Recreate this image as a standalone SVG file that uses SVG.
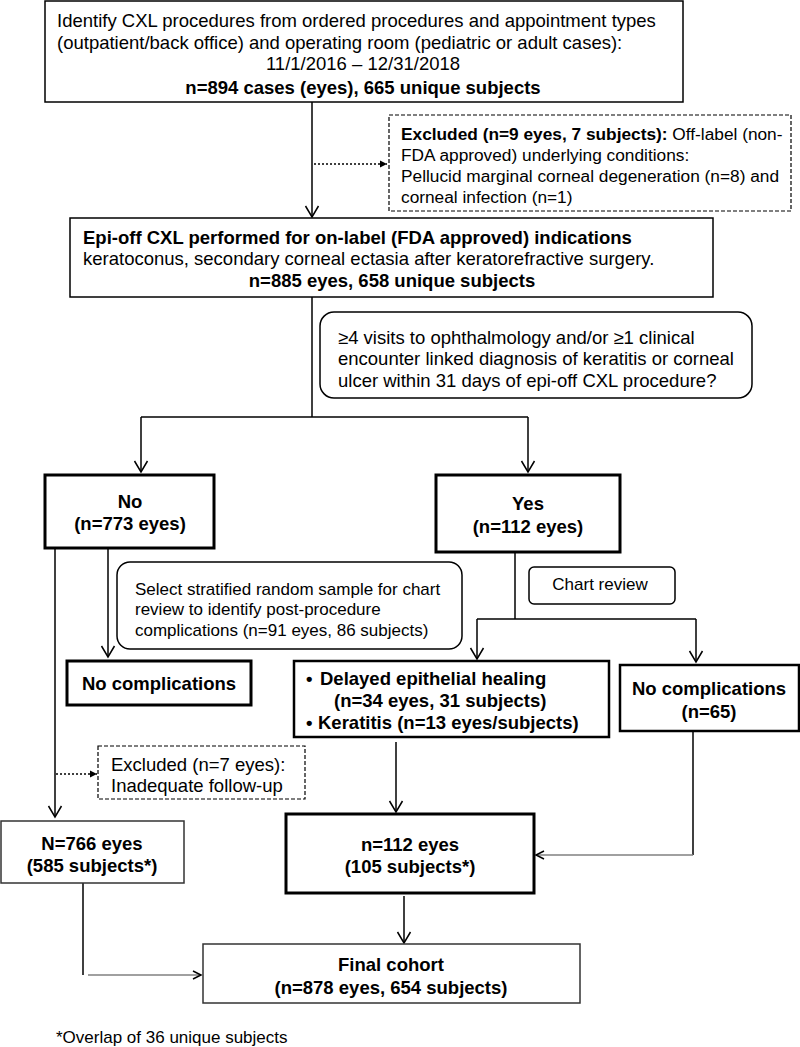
<svg xmlns="http://www.w3.org/2000/svg" width="800" height="1047" viewBox="0 0 800 1047">
<style>
text{font-family:"Liberation Sans",Arial,sans-serif;font-size:18.5px;fill:#000}
.b{font-weight:bold}
.s{font-size:17px}
.e{font-size:17.3px}
.c{text-anchor:middle}
.box{fill:#fff;stroke:#000;stroke-width:1.5}
.thick{fill:#fff;stroke:#000;stroke-width:3}
.mid{fill:#fff;stroke:#000;stroke-width:2.5}
.dash{fill:#fff;stroke:#000;stroke-width:1.2;stroke-dasharray:4 2}
.ln{fill:none;stroke:#000;stroke-width:1.5}
.gray{fill:none;stroke:#808080;stroke-width:1.5}
.dot{fill:none;stroke:#000;stroke-width:1.5;stroke-dasharray:2 2}
</style>
<defs>
<marker id="arr" markerUnits="userSpaceOnUse" markerWidth="14" markerHeight="16" viewBox="0 0 14 16" refX="12" refY="8" orient="auto">
<path d="M1,1.5 L12,8 L1,14.5" fill="none" stroke="#000" stroke-width="1.5"/>
</marker>
<marker id="arrs" markerUnits="userSpaceOnUse" markerWidth="12" markerHeight="12" viewBox="0 0 12 12" refX="10" refY="6" orient="auto">
<path d="M2,2 L10,6 L2,10" fill="none" stroke="#000" stroke-width="1.5"/>
</marker>
<marker id="tri" markerUnits="userSpaceOnUse" markerWidth="10" markerHeight="10" viewBox="0 0 10 10" refX="8" refY="5" orient="auto">
<path d="M1,1.5 L8,5 L1,8.5 Z" fill="#000"/>
</marker>
</defs>

<g id="connectors">
<line class="ln" x1="312" y1="102" x2="312" y2="217" marker-end="url(#arr)"/>
<line class="dot" x1="314" y1="164" x2="387" y2="164" marker-end="url(#tri)"/>
<line class="ln" x1="312" y1="297" x2="312" y2="417"/>
<line class="ln" x1="141" y1="417" x2="528" y2="417"/>
<line class="ln" x1="141" y1="417" x2="141" y2="472" marker-end="url(#arr)"/>
<line class="ln" x1="528" y1="417" x2="528" y2="472" marker-end="url(#arr)"/>
<line class="ln" x1="108" y1="548" x2="108" y2="657" marker-end="url(#arr)"/>
<line class="ln" x1="55" y1="548" x2="55" y2="817" marker-end="url(#arr)"/>
<line class="dot" x1="56" y1="774" x2="97" y2="774" marker-end="url(#tri)"/>
<line class="ln" x1="515" y1="552" x2="515" y2="619"/>
<line class="ln" x1="477" y1="619" x2="696" y2="619"/>
<line class="ln" x1="477" y1="619" x2="477" y2="659" marker-end="url(#arr)"/>
<line class="ln" x1="696" y1="619" x2="696" y2="662" marker-end="url(#arr)"/>
<line class="ln" x1="396" y1="742" x2="396" y2="812" marker-end="url(#arr)"/>
<line class="ln" x1="693" y1="731" x2="693" y2="855"/>
<line class="gray" x1="693" y1="855" x2="536" y2="855" marker-end="url(#arrs)"/>
<line class="ln" x1="83" y1="883" x2="83" y2="975"/>
<line class="gray" x1="88" y1="975" x2="201" y2="975" marker-end="url(#arrs)"/>
<line class="ln" x1="404" y1="896" x2="404" y2="943" marker-end="url(#arr)"/>
</g>

<g id="n-identify">
<rect class="box" x="45" y="1" width="638" height="101"/>
<text x="57" y="26.5">Identify CXL procedures from ordered procedures and appointment types</text>
<text x="57" y="48.5">(outpatient/back office) and operating room (pediatric or adult cases):</text>
<text class="c" x="363" y="69.5">11/1/2016 – 12/31/2018</text>
<text class="c b" x="363" y="93.5">n=894 cases (eyes), 665 unique subjects</text>
</g>

<g id="n-excluded1">
<rect class="dash" x="389" y="115" width="402" height="96"/>
<text class="e" x="401" y="140"><tspan class="b">Excluded (n=9 eyes, 7 subjects):</tspan> Off-label (non-</text>
<text class="e" x="401" y="161">FDA approved) underlying conditions:</text>
<text class="e" x="401" y="182">Pellucid marginal corneal degeneration (n=8) and</text>
<text class="e" x="401" y="203">corneal infection (n=1)</text>
</g>

<g id="n-epioff">
<rect class="box" x="70" y="218" width="643" height="79"/>
<text class="b" x="83" y="243.5">Epi-off CXL performed for on-label (FDA approved) indications</text>
<text x="83" y="264.5">keratoconus, secondary corneal ectasia after keratorefractive surgery.</text>
<text class="c b" x="392" y="286.5">n=885 eyes, 658 unique subjects</text>
</g>

<g id="n-question">
<rect class="box" x="320" y="312" width="432" height="86" rx="14"/>
<text x="338" y="343.5">≥4 visits to ophthalmology and/or ≥1 clinical</text>
<text x="338" y="364.5">encounter linked diagnosis of keratitis or corneal</text>
<text x="338" y="386.5">ulcer within 31 days of epi-off CXL procedure?</text>
</g>

<g id="n-no">
<rect class="thick" x="45" y="475" width="169" height="73"/>
<text class="c b" x="130" y="507.5">No</text>
<text class="c b" x="130" y="529.5">(n=773 eyes)</text>
</g>

<g id="n-yes">
<rect class="thick" x="436" y="475" width="184" height="77"/>
<text class="c b" x="528" y="509.5">Yes</text>
<text class="c b" x="528" y="532.5">(n=112 eyes)</text>
</g>

<g id="n-select">
<rect class="box" x="117" y="562" width="345" height="87" rx="13"/>
<text class="s" x="135" y="595">Select stratified random sample for chart</text>
<text class="s" x="135" y="615">review to identify post-procedure</text>
<text class="s" x="135" y="636">complications (n=91 eyes, 86 subjects)</text>
</g>

<g id="n-chart">
<rect class="box" x="529" y="567" width="146" height="37" rx="5"/>
<text class="s c" x="600" y="590">Chart review</text>
</g>

<g id="n-nocomp1">
<rect class="thick" x="67" y="661" width="184" height="44"/>
<text class="c b" x="159" y="689.5">No complications</text>
</g>

<g id="n-delayed">
<rect class="mid" x="294" y="661" width="315" height="76"/>
<text class="b" x="306" y="684.5">•<tspan x="320">Delayed epithelial healing</tspan></text>
<text class="b" x="334" y="706.5">(n=34 eyes, 31 subjects)</text>
<text class="b" x="306" y="728.5">•<tspan x="318">Keratitis (n=13 eyes/subjects)</tspan></text>
</g>

<g id="n-nocomp2">
<rect class="mid" x="620" y="665" width="179" height="66"/>
<text class="c b" x="709" y="694.5">No complications</text>
<text class="c b" x="709" y="717.5">(n=65)</text>
</g>

<g id="n-excluded2">
<rect class="dash" x="98" y="746" width="207" height="53"/>
<text x="111" y="770.5">Excluded (n=7 eyes):</text>
<text x="111" y="791.5">Inadequate follow-up</text>
</g>

<g id="n-766">
<rect class="box" x="1" y="821" width="183" height="62" style="stroke:#333"/>
<text class="c b" x="92" y="849.5">N=766 eyes</text>
<text class="c b" x="92" y="871.5">(585 subjects*)</text>
</g>

<g id="n-112">
<rect class="thick" x="286" y="814" width="248" height="79"/>
<text class="c b" x="410" y="850.5">n=112 eyes</text>
<text class="c b" x="410" y="872.5">(105 subjects*)</text>
</g>

<g id="n-final">
<rect class="box" x="203" y="944" width="377" height="59" style="stroke:#333"/>
<text class="c b" x="391" y="970.5">Final cohort</text>
<text class="c b" x="391" y="993.5">(n=878 eyes, 654 subjects)</text>
</g>

<g id="footnote">
<text class="s" x="56" y="1043">*Overlap of 36 unique subjects</text>
</g>
</svg>
